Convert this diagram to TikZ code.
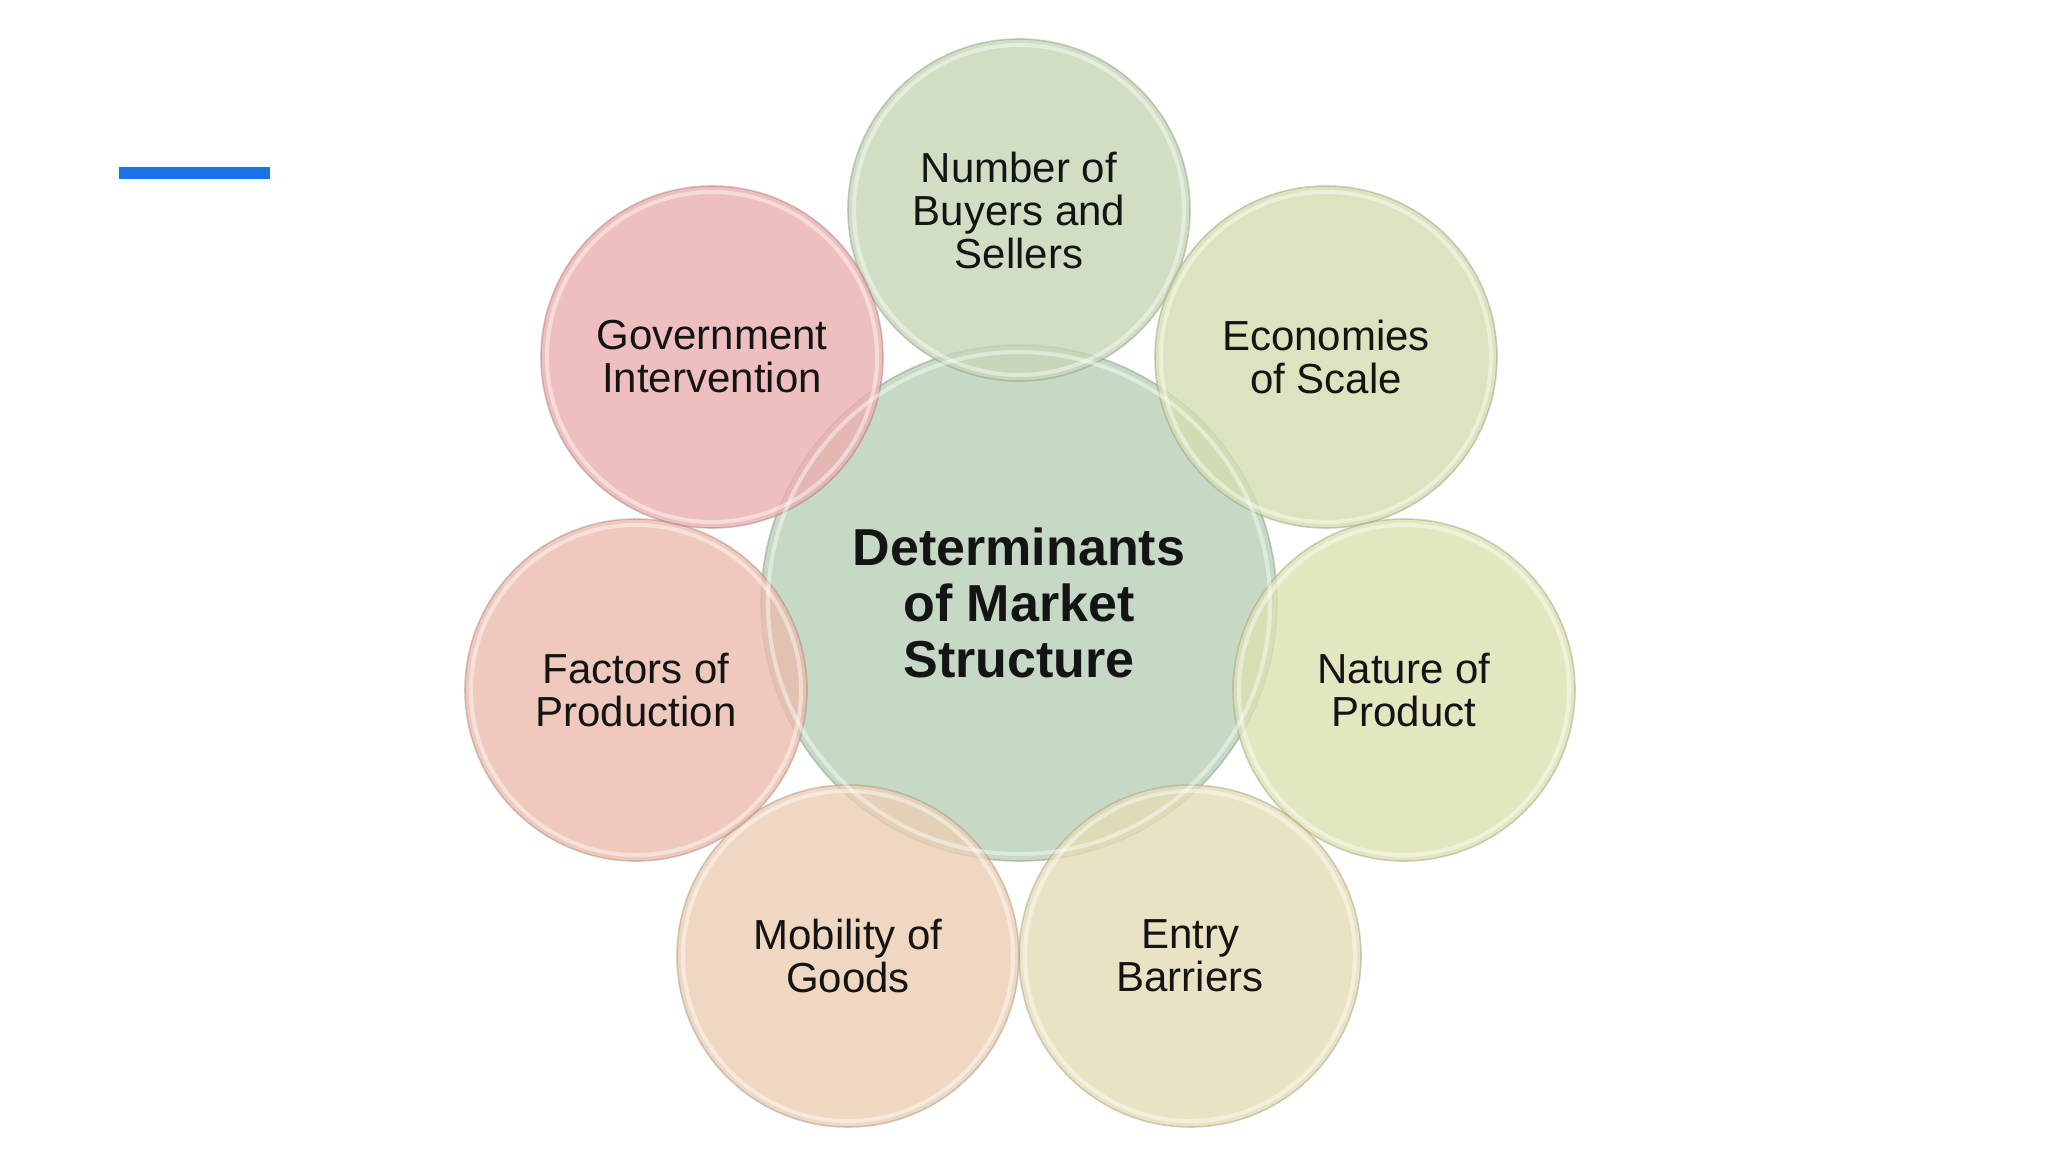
\documentclass[tikz,border=0pt]{standalone}
\usepackage{fontspec}
\setmainfont{Liberation Sans}
\begin{document}
\begin{tikzpicture}[x=1pt,y=-1pt,
  bubble/.style={circle, minimum size=342pt, inner sep=0pt, align=center,
    fill opacity=0.8, text opacity=1, draw opacity=0.45, line width=1.6pt,
    font=\fontsize{42}{43}\selectfont, text=black!92},
  bigbubble/.style={bubble, minimum size=516pt,
    font=\bfseries\fontsize{52}{56}\selectfont},
  ring/.style={draw=white, line width=4pt, opacity=0.45}]
\useasboundingbox[fill=white] (0,0) rectangle (2048,1152);
\definecolor{cCen}{HTML}{B8D0B6}
\definecolor{cTop}{HTML}{C6D6B6}
\definecolor{cEco}{HTML}{D3DEB0}
\definecolor{cNat}{HTML}{DDE0B0}
\definecolor{cEnt}{HTML}{E5DCB4}
\definecolor{cMob}{HTML}{EBCEB3}
\definecolor{cFac}{HTML}{EBBCAC}
\definecolor{cGov}{HTML}{ECAEB0}
\definecolor{accent}{HTML}{1A73E8}

\fill[accent] (119,167) rectangle (270,179);

\node[bigbubble, fill=cCen, draw=cCen!70!black] (cen) at (1019,603) {Determinants\\of Market\\Structure};
\node[bubble, fill=cTop, draw=cTop!70!black] (top) at (1019,210) {Number of\\Buyers and\\Sellers};
\node[bubble, fill=cEco, draw=cEco!70!black] (eco) at (1326,357) {Economies\\of Scale};
\node[bubble, fill=cNat, draw=cNat!70!black] (nat) at (1404,690) {Nature of\\Product};
\node[bubble, fill=cEnt, draw=cEnt!70!black] (ent) at (1190,956) {Entry\\Barriers};
\node[bubble, fill=cMob, draw=cMob!70!black] (mob) at (848,956) {Mobility of\\Goods};
\node[bubble, fill=cFac, draw=cFac!70!black] (fac) at (636,690) {Factors of\\Production};
\node[bubble, fill=cGov, draw=cGov!70!black] (gov) at (712,357) {Government\\Intervention};

\draw[ring] (cen) circle (251);
\foreach \n in {top,eco,nat,ent,mob,fac,gov}{
  \draw[ring] (\n) circle (165);
}
\end{tikzpicture}
\end{document}
